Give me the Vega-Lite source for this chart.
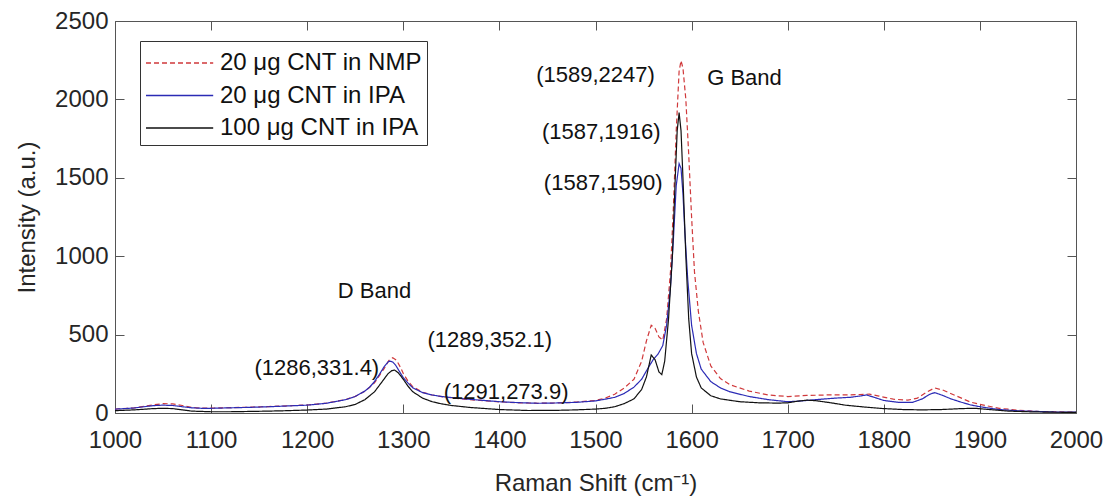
{
  "$schema": "https://vega.github.io/schema/vega-lite/v6.json",
  "autosize": "none",
  "width": 961,
  "height": 392,
  "padding": {"left": 115, "top": 21, "right": 36, "bottom": 91},
  "background": "white",
  "config": {
    "font": "Liberation Sans",
    "view": {"stroke": "#555555", "strokeWidth": 1},
    "axis": {"grid": false, "domain": false, "labelFont": "Liberation Sans", "titleFont": "Liberation Sans", "labelColor": "#262626", "titleColor": "#262626", "tickColor": "#555555", "labelFontSize": 24, "titleFontSize": 24, "titleFontWeight": "normal", "format": "d"}
  },
  "datasets": {
    "spectra": [
      {"series": "20 μg CNT in NMP", "x": 1000, "y": 25}, {"series": "20 μg CNT in NMP", "x": 1020, "y": 33}, {"series": "20 μg CNT in NMP", "x": 1040, "y": 52}, {"series": "20 μg CNT in NMP", "x": 1050, "y": 60}, {"series": "20 μg CNT in NMP", "x": 1060, "y": 58}, {"series": "20 μg CNT in NMP", "x": 1070, "y": 48}, {"series": "20 μg CNT in NMP", "x": 1080, "y": 35}, {"series": "20 μg CNT in NMP", "x": 1090, "y": 31}, {"series": "20 μg CNT in NMP", "x": 1100, "y": 31}, {"series": "20 μg CNT in NMP", "x": 1120, "y": 34}, {"series": "20 μg CNT in NMP", "x": 1140, "y": 37}, {"series": "20 μg CNT in NMP", "x": 1160, "y": 41}, {"series": "20 μg CNT in NMP", "x": 1180, "y": 46}, {"series": "20 μg CNT in NMP", "x": 1200, "y": 51}, {"series": "20 μg CNT in NMP", "x": 1220, "y": 63}, {"series": "20 μg CNT in NMP", "x": 1240, "y": 86}, {"series": "20 μg CNT in NMP", "x": 1250, "y": 106}, {"series": "20 μg CNT in NMP", "x": 1260, "y": 138}, {"series": "20 μg CNT in NMP", "x": 1270, "y": 192}, {"series": "20 μg CNT in NMP", "x": 1280, "y": 283}, {"series": "20 μg CNT in NMP", "x": 1285, "y": 335}, {"series": "20 μg CNT in NMP", "x": 1289, "y": 352}, {"series": "20 μg CNT in NMP", "x": 1293, "y": 336}, {"series": "20 μg CNT in NMP", "x": 1297, "y": 292}, {"series": "20 μg CNT in NMP", "x": 1300, "y": 252}, {"series": "20 μg CNT in NMP", "x": 1305, "y": 202}, {"series": "20 μg CNT in NMP", "x": 1310, "y": 167}, {"series": "20 μg CNT in NMP", "x": 1320, "y": 132}, {"series": "20 μg CNT in NMP", "x": 1330, "y": 115}, {"series": "20 μg CNT in NMP", "x": 1340, "y": 104}, {"series": "20 μg CNT in NMP", "x": 1360, "y": 90}, {"series": "20 μg CNT in NMP", "x": 1380, "y": 80}, {"series": "20 μg CNT in NMP", "x": 1400, "y": 71}, {"series": "20 μg CNT in NMP", "x": 1420, "y": 65}, {"series": "20 μg CNT in NMP", "x": 1440, "y": 62}, {"series": "20 μg CNT in NMP", "x": 1460, "y": 64}, {"series": "20 μg CNT in NMP", "x": 1480, "y": 70}, {"series": "20 μg CNT in NMP", "x": 1500, "y": 80}, {"series": "20 μg CNT in NMP", "x": 1510, "y": 95}, {"series": "20 μg CNT in NMP", "x": 1520, "y": 120}, {"series": "20 μg CNT in NMP", "x": 1530, "y": 160}, {"series": "20 μg CNT in NMP", "x": 1540, "y": 215}, {"series": "20 μg CNT in NMP", "x": 1548, "y": 330}, {"series": "20 μg CNT in NMP", "x": 1553, "y": 460}, {"series": "20 μg CNT in NMP", "x": 1558, "y": 560}, {"series": "20 μg CNT in NMP", "x": 1562, "y": 540}, {"series": "20 μg CNT in NMP", "x": 1566, "y": 485}, {"series": "20 μg CNT in NMP", "x": 1570, "y": 465}, {"series": "20 μg CNT in NMP", "x": 1574, "y": 600}, {"series": "20 μg CNT in NMP", "x": 1578, "y": 900}, {"series": "20 μg CNT in NMP", "x": 1581, "y": 1300}, {"series": "20 μg CNT in NMP", "x": 1584, "y": 1800}, {"series": "20 μg CNT in NMP", "x": 1587, "y": 2180}, {"series": "20 μg CNT in NMP", "x": 1589, "y": 2247}, {"series": "20 μg CNT in NMP", "x": 1591, "y": 2200}, {"series": "20 μg CNT in NMP", "x": 1594, "y": 2000}, {"series": "20 μg CNT in NMP", "x": 1597, "y": 1650}, {"series": "20 μg CNT in NMP", "x": 1600, "y": 1250}, {"series": "20 μg CNT in NMP", "x": 1603, "y": 900}, {"series": "20 μg CNT in NMP", "x": 1607, "y": 650}, {"series": "20 μg CNT in NMP", "x": 1612, "y": 450}, {"series": "20 μg CNT in NMP", "x": 1620, "y": 300}, {"series": "20 μg CNT in NMP", "x": 1630, "y": 220}, {"series": "20 μg CNT in NMP", "x": 1640, "y": 180}, {"series": "20 μg CNT in NMP", "x": 1660, "y": 140}, {"series": "20 μg CNT in NMP", "x": 1680, "y": 115}, {"series": "20 μg CNT in NMP", "x": 1700, "y": 105}, {"series": "20 μg CNT in NMP", "x": 1720, "y": 112}, {"series": "20 μg CNT in NMP", "x": 1740, "y": 115}, {"series": "20 μg CNT in NMP", "x": 1760, "y": 115}, {"series": "20 μg CNT in NMP", "x": 1775, "y": 118}, {"series": "20 μg CNT in NMP", "x": 1785, "y": 120}, {"series": "20 μg CNT in NMP", "x": 1795, "y": 108}, {"series": "20 μg CNT in NMP", "x": 1810, "y": 88}, {"series": "20 μg CNT in NMP", "x": 1825, "y": 82}, {"series": "20 μg CNT in NMP", "x": 1835, "y": 95}, {"series": "20 μg CNT in NMP", "x": 1845, "y": 135}, {"series": "20 μg CNT in NMP", "x": 1853, "y": 160}, {"series": "20 μg CNT in NMP", "x": 1862, "y": 145}, {"series": "20 μg CNT in NMP", "x": 1875, "y": 110}, {"series": "20 μg CNT in NMP", "x": 1890, "y": 70}, {"series": "20 μg CNT in NMP", "x": 1900, "y": 55}, {"series": "20 μg CNT in NMP", "x": 1920, "y": 30}, {"series": "20 μg CNT in NMP", "x": 1940, "y": 18}, {"series": "20 μg CNT in NMP", "x": 1960, "y": 10}, {"series": "20 μg CNT in NMP", "x": 1980, "y": 7}, {"series": "20 μg CNT in NMP", "x": 2000, "y": 5},

      {"series": "20 μg CNT in IPA", "x": 1000, "y": 25}, {"series": "20 μg CNT in IPA", "x": 1010, "y": 28}, {"series": "20 μg CNT in IPA", "x": 1020, "y": 32}, {"series": "20 μg CNT in IPA", "x": 1030, "y": 40}, {"series": "20 μg CNT in IPA", "x": 1040, "y": 47}, {"series": "20 μg CNT in IPA", "x": 1050, "y": 50}, {"series": "20 μg CNT in IPA", "x": 1060, "y": 48}, {"series": "20 μg CNT in IPA", "x": 1070, "y": 40}, {"series": "20 μg CNT in IPA", "x": 1080, "y": 33}, {"series": "20 μg CNT in IPA", "x": 1090, "y": 30}, {"series": "20 μg CNT in IPA", "x": 1100, "y": 30}, {"series": "20 μg CNT in IPA", "x": 1120, "y": 33}, {"series": "20 μg CNT in IPA", "x": 1140, "y": 36}, {"series": "20 μg CNT in IPA", "x": 1160, "y": 40}, {"series": "20 μg CNT in IPA", "x": 1180, "y": 45}, {"series": "20 μg CNT in IPA", "x": 1200, "y": 50}, {"series": "20 μg CNT in IPA", "x": 1220, "y": 62}, {"series": "20 μg CNT in IPA", "x": 1240, "y": 85}, {"series": "20 μg CNT in IPA", "x": 1250, "y": 105}, {"series": "20 μg CNT in IPA", "x": 1260, "y": 140}, {"series": "20 μg CNT in IPA", "x": 1265, "y": 165}, {"series": "20 μg CNT in IPA", "x": 1270, "y": 200}, {"series": "20 μg CNT in IPA", "x": 1275, "y": 245}, {"series": "20 μg CNT in IPA", "x": 1280, "y": 295}, {"series": "20 μg CNT in IPA", "x": 1284, "y": 325}, {"series": "20 μg CNT in IPA", "x": 1286, "y": 331}, {"series": "20 μg CNT in IPA", "x": 1289, "y": 325}, {"series": "20 μg CNT in IPA", "x": 1292, "y": 305}, {"series": "20 μg CNT in IPA", "x": 1296, "y": 265}, {"series": "20 μg CNT in IPA", "x": 1300, "y": 225}, {"series": "20 μg CNT in IPA", "x": 1305, "y": 190}, {"series": "20 μg CNT in IPA", "x": 1310, "y": 160}, {"series": "20 μg CNT in IPA", "x": 1320, "y": 130}, {"series": "20 μg CNT in IPA", "x": 1330, "y": 115}, {"series": "20 μg CNT in IPA", "x": 1340, "y": 105}, {"series": "20 μg CNT in IPA", "x": 1360, "y": 92}, {"series": "20 μg CNT in IPA", "x": 1380, "y": 82}, {"series": "20 μg CNT in IPA", "x": 1400, "y": 72}, {"series": "20 μg CNT in IPA", "x": 1420, "y": 66}, {"series": "20 μg CNT in IPA", "x": 1440, "y": 62}, {"series": "20 μg CNT in IPA", "x": 1460, "y": 64}, {"series": "20 μg CNT in IPA", "x": 1480, "y": 68}, {"series": "20 μg CNT in IPA", "x": 1500, "y": 77}, {"series": "20 μg CNT in IPA", "x": 1510, "y": 88}, {"series": "20 μg CNT in IPA", "x": 1520, "y": 100}, {"series": "20 μg CNT in IPA", "x": 1530, "y": 125}, {"series": "20 μg CNT in IPA", "x": 1540, "y": 165}, {"series": "20 μg CNT in IPA", "x": 1548, "y": 215}, {"series": "20 μg CNT in IPA", "x": 1555, "y": 290}, {"series": "20 μg CNT in IPA", "x": 1560, "y": 340}, {"series": "20 μg CNT in IPA", "x": 1565, "y": 375}, {"series": "20 μg CNT in IPA", "x": 1570, "y": 430}, {"series": "20 μg CNT in IPA", "x": 1574, "y": 560}, {"series": "20 μg CNT in IPA", "x": 1578, "y": 800}, {"series": "20 μg CNT in IPA", "x": 1581, "y": 1100}, {"series": "20 μg CNT in IPA", "x": 1584, "y": 1450}, {"series": "20 μg CNT in IPA", "x": 1587, "y": 1590}, {"series": "20 μg CNT in IPA", "x": 1589, "y": 1560}, {"series": "20 μg CNT in IPA", "x": 1591, "y": 1400}, {"series": "20 μg CNT in IPA", "x": 1593, "y": 1150}, {"series": "20 μg CNT in IPA", "x": 1596, "y": 850}, {"series": "20 μg CNT in IPA", "x": 1600, "y": 560}, {"series": "20 μg CNT in IPA", "x": 1605, "y": 380}, {"series": "20 μg CNT in IPA", "x": 1610, "y": 280}, {"series": "20 μg CNT in IPA", "x": 1620, "y": 200}, {"series": "20 μg CNT in IPA", "x": 1630, "y": 160}, {"series": "20 μg CNT in IPA", "x": 1640, "y": 135}, {"series": "20 μg CNT in IPA", "x": 1660, "y": 105}, {"series": "20 μg CNT in IPA", "x": 1680, "y": 85}, {"series": "20 μg CNT in IPA", "x": 1700, "y": 72}, {"series": "20 μg CNT in IPA", "x": 1710, "y": 75}, {"series": "20 μg CNT in IPA", "x": 1720, "y": 80}, {"series": "20 μg CNT in IPA", "x": 1735, "y": 88}, {"series": "20 μg CNT in IPA", "x": 1750, "y": 95}, {"series": "20 μg CNT in IPA", "x": 1765, "y": 100}, {"series": "20 μg CNT in IPA", "x": 1775, "y": 108}, {"series": "20 μg CNT in IPA", "x": 1782, "y": 115}, {"series": "20 μg CNT in IPA", "x": 1790, "y": 100}, {"series": "20 μg CNT in IPA", "x": 1800, "y": 80}, {"series": "20 μg CNT in IPA", "x": 1815, "y": 68}, {"series": "20 μg CNT in IPA", "x": 1830, "y": 68}, {"series": "20 μg CNT in IPA", "x": 1840, "y": 90}, {"series": "20 μg CNT in IPA", "x": 1848, "y": 120}, {"series": "20 μg CNT in IPA", "x": 1853, "y": 130}, {"series": "20 μg CNT in IPA", "x": 1860, "y": 115}, {"series": "20 μg CNT in IPA", "x": 1870, "y": 90}, {"series": "20 μg CNT in IPA", "x": 1880, "y": 70}, {"series": "20 μg CNT in IPA", "x": 1890, "y": 52}, {"series": "20 μg CNT in IPA", "x": 1900, "y": 40}, {"series": "20 μg CNT in IPA", "x": 1920, "y": 22}, {"series": "20 μg CNT in IPA", "x": 1940, "y": 14}, {"series": "20 μg CNT in IPA", "x": 1960, "y": 10}, {"series": "20 μg CNT in IPA", "x": 1980, "y": 6}, {"series": "20 μg CNT in IPA", "x": 2000, "y": 5},

      {"series": "100 μg CNT in IPA", "x": 1000, "y": 15}, {"series": "100 μg CNT in IPA", "x": 1020, "y": 20}, {"series": "100 μg CNT in IPA", "x": 1040, "y": 28}, {"series": "100 μg CNT in IPA", "x": 1050, "y": 30}, {"series": "100 μg CNT in IPA", "x": 1060, "y": 28}, {"series": "100 μg CNT in IPA", "x": 1070, "y": 20}, {"series": "100 μg CNT in IPA", "x": 1080, "y": 12}, {"series": "100 μg CNT in IPA", "x": 1100, "y": 8}, {"series": "100 μg CNT in IPA", "x": 1120, "y": 8}, {"series": "100 μg CNT in IPA", "x": 1140, "y": 10}, {"series": "100 μg CNT in IPA", "x": 1160, "y": 12}, {"series": "100 μg CNT in IPA", "x": 1180, "y": 15}, {"series": "100 μg CNT in IPA", "x": 1200, "y": 19}, {"series": "100 μg CNT in IPA", "x": 1220, "y": 25}, {"series": "100 μg CNT in IPA", "x": 1240, "y": 40}, {"series": "100 μg CNT in IPA", "x": 1250, "y": 55}, {"series": "100 μg CNT in IPA", "x": 1260, "y": 85}, {"series": "100 μg CNT in IPA", "x": 1270, "y": 135}, {"series": "100 μg CNT in IPA", "x": 1278, "y": 200}, {"series": "100 μg CNT in IPA", "x": 1284, "y": 250}, {"series": "100 μg CNT in IPA", "x": 1288, "y": 270}, {"series": "100 μg CNT in IPA", "x": 1291, "y": 274}, {"series": "100 μg CNT in IPA", "x": 1295, "y": 255}, {"series": "100 μg CNT in IPA", "x": 1300, "y": 215}, {"series": "100 μg CNT in IPA", "x": 1305, "y": 170}, {"series": "100 μg CNT in IPA", "x": 1310, "y": 135}, {"series": "100 μg CNT in IPA", "x": 1320, "y": 95}, {"series": "100 μg CNT in IPA", "x": 1330, "y": 72}, {"series": "100 μg CNT in IPA", "x": 1340, "y": 58}, {"series": "100 μg CNT in IPA", "x": 1350, "y": 48}, {"series": "100 μg CNT in IPA", "x": 1370, "y": 35}, {"series": "100 μg CNT in IPA", "x": 1400, "y": 22}, {"series": "100 μg CNT in IPA", "x": 1430, "y": 16}, {"series": "100 μg CNT in IPA", "x": 1460, "y": 17}, {"series": "100 μg CNT in IPA", "x": 1480, "y": 20}, {"series": "100 μg CNT in IPA", "x": 1500, "y": 25}, {"series": "100 μg CNT in IPA", "x": 1510, "y": 30}, {"series": "100 μg CNT in IPA", "x": 1520, "y": 40}, {"series": "100 μg CNT in IPA", "x": 1530, "y": 60}, {"series": "100 μg CNT in IPA", "x": 1540, "y": 90}, {"series": "100 μg CNT in IPA", "x": 1548, "y": 150}, {"series": "100 μg CNT in IPA", "x": 1553, "y": 230}, {"series": "100 μg CNT in IPA", "x": 1558, "y": 370}, {"series": "100 μg CNT in IPA", "x": 1562, "y": 340}, {"series": "100 μg CNT in IPA", "x": 1566, "y": 262}, {"series": "100 μg CNT in IPA", "x": 1569, "y": 245}, {"series": "100 μg CNT in IPA", "x": 1572, "y": 330}, {"series": "100 μg CNT in IPA", "x": 1576, "y": 600}, {"series": "100 μg CNT in IPA", "x": 1580, "y": 1000}, {"series": "100 μg CNT in IPA", "x": 1583, "y": 1500}, {"series": "100 μg CNT in IPA", "x": 1585, "y": 1800}, {"series": "100 μg CNT in IPA", "x": 1587, "y": 1916}, {"series": "100 μg CNT in IPA", "x": 1589, "y": 1800}, {"series": "100 μg CNT in IPA", "x": 1591, "y": 1500}, {"series": "100 μg CNT in IPA", "x": 1594, "y": 1000}, {"series": "100 μg CNT in IPA", "x": 1597, "y": 600}, {"series": "100 μg CNT in IPA", "x": 1600, "y": 380}, {"series": "100 μg CNT in IPA", "x": 1605, "y": 230}, {"series": "100 μg CNT in IPA", "x": 1610, "y": 160}, {"series": "100 μg CNT in IPA", "x": 1620, "y": 110}, {"series": "100 μg CNT in IPA", "x": 1630, "y": 90}, {"series": "100 μg CNT in IPA", "x": 1650, "y": 72}, {"series": "100 μg CNT in IPA", "x": 1670, "y": 65}, {"series": "100 μg CNT in IPA", "x": 1690, "y": 63}, {"series": "100 μg CNT in IPA", "x": 1700, "y": 65}, {"series": "100 μg CNT in IPA", "x": 1710, "y": 75}, {"series": "100 μg CNT in IPA", "x": 1720, "y": 82}, {"series": "100 μg CNT in IPA", "x": 1730, "y": 78}, {"series": "100 μg CNT in IPA", "x": 1745, "y": 65}, {"series": "100 μg CNT in IPA", "x": 1760, "y": 50}, {"series": "100 μg CNT in IPA", "x": 1780, "y": 38}, {"series": "100 μg CNT in IPA", "x": 1800, "y": 28}, {"series": "100 μg CNT in IPA", "x": 1820, "y": 22}, {"series": "100 μg CNT in IPA", "x": 1840, "y": 20}, {"series": "100 μg CNT in IPA", "x": 1860, "y": 22}, {"series": "100 μg CNT in IPA", "x": 1880, "y": 28}, {"series": "100 μg CNT in IPA", "x": 1895, "y": 30}, {"series": "100 μg CNT in IPA", "x": 1910, "y": 22}, {"series": "100 μg CNT in IPA", "x": 1930, "y": 12}, {"series": "100 μg CNT in IPA", "x": 1950, "y": 8}, {"series": "100 μg CNT in IPA", "x": 1975, "y": 5}, {"series": "100 μg CNT in IPA", "x": 2000, "y": 4}
    ],
    "notes": [
      {"x": 1210, "y": 287, "label": "(1286,331.4)"},
      {"x": 1390, "y": 466, "label": "(1289,352.1)"},
      {"x": 1407, "y": 134, "label": "(1291,273.9)"},
      {"x": 1500, "y": 2156, "label": "(1589,2247)"},
      {"x": 1506, "y": 1792, "label": "(1587,1916)"},
      {"x": 1508, "y": 1467, "label": "(1587,1590)"},
      {"x": 1655, "y": 2136, "label": "G Band"},
      {"x": 1270, "y": 775, "label": "D Band"}
    ]
  },
  "layer": [
    {
      "data": {"name": "spectra"},
      "mark": {"type": "line", "strokeWidth": 1.2, "clip": true},
      "encoding": {
        "x": {"field": "x", "type": "quantitative", "scale": {"domain": [1000, 2000], "nice": false, "zero": false},
              "axis": {"orient": "bottom", "title": "Raman Shift (cm⁻¹)", "values": [1000,1100,1200,1300,1400,1500,1600,1700,1800,1900,2000], "tickSize": -9, "labelPadding": 24, "labelFlush": false, "titleY": 70, "titleBaseline": "middle"}},
        "y": {"field": "y", "type": "quantitative", "scale": {"domain": [0, 2500], "nice": false},
              "axis": {"orient": "left", "title": "Intensity (a.u.)", "values": [0,500,1000,1500,2000,2500], "tickSize": -9, "labelPadding": 16, "labelFlush": false, "titleX": -88, "titleY": 196, "titleBaseline": "middle", "titleAngle": -90, "titleAlign": "center"}},
        "color": {"field": "series", "type": "nominal",
                  "scale": {"domain": ["20 μg CNT in NMP", "20 μg CNT in IPA", "100 μg CNT in IPA"], "range": ["#d0393b", "#2b2bb5", "#111111"]},
                  "legend": {"title": null, "orient": "none", "legendX": 25, "legendY": 20, "symbolType": "M-1,0H3.2", "symbolSize": 1024, "symbolStrokeWidth": 1.3, "symbolFillColor": "transparent", "labelFontSize": 24, "labelFont": "Liberation Sans", "labelColor": "#111111", "labelLimit": 0, "labelOffset": 41, "rowPadding": 3.5, "padding": 5, "strokeColor": "#333333", "fillColor": "white"}},
        "strokeDash": {"field": "series", "type": "nominal",
                  "scale": {"domain": ["20 μg CNT in NMP", "20 μg CNT in IPA", "100 μg CNT in IPA"], "range": [[5, 3], [1, 0], [1, 0]]}}
      }
    },
    {
      "data": {"name": "notes"},
      "mark": {"type": "text", "fontSize": 22, "font": "Liberation Sans", "color": "#111111", "align": "center", "baseline": "middle"},
      "encoding": {
        "x": {"field": "x", "type": "quantitative", "axis": {"orient": "top", "labels": false, "title": null, "values": [1000,1100,1200,1300,1400,1500,1600,1700,1800,1900,2000], "tickSize": -9}},
        "y": {"field": "y", "type": "quantitative", "axis": {"orient": "right", "labels": false, "title": null, "values": [0,500,1000,1500,2000,2500], "tickSize": -9}},
        "text": {"field": "label"}
      }
    }
  ],
  "resolve": {"axis": {"x": "independent", "y": "independent"}}
}
